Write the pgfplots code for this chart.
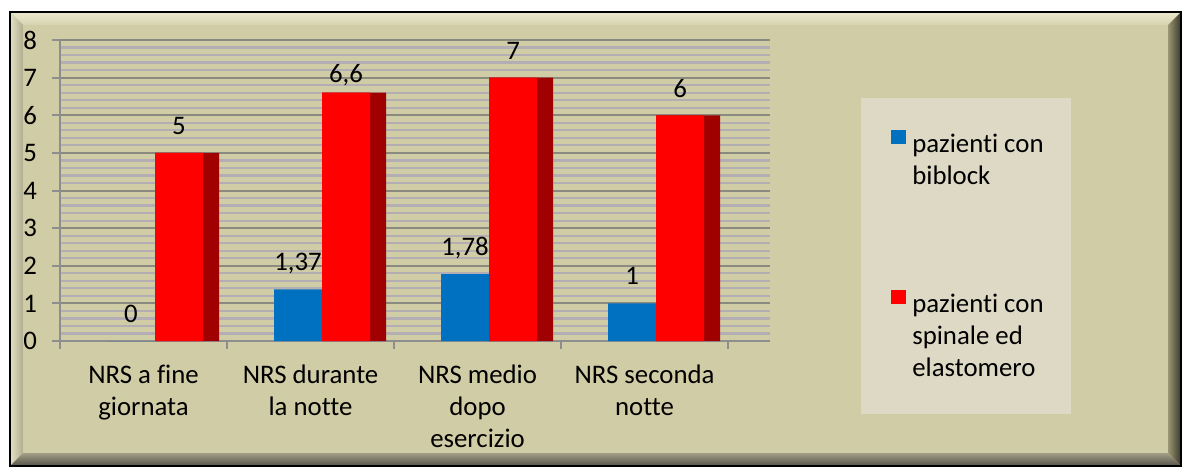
\documentclass[border=0pt]{standalone}
\usepackage{fontspec}
\setmainfont{Carlito}[Ligatures=NoCommon]
\usepackage{pgfplots}
\pgfplotsset{compat=1.18}
\definecolor{panel}{HTML}{D0CCA5}
\definecolor{legbg}{HTML}{DDD9C4}
\definecolor{cblue}{HTML}{0070C0}
\definecolor{cred}{HTML}{FF0000}
\definecolor{cdark}{HTML}{A00000}
\definecolor{gmaj}{HTML}{8A8A80}
\definecolor{gmin}{HTML}{B3AEB3}
\definecolor{axisgray}{HTML}{8E8E8E}
\definecolor{bevtopA}{HTML}{ECE8CE}
\definecolor{bevtopB}{HTML}{D6D2B0}
\definecolor{bevleftA}{HTML}{E4E0C4}
\definecolor{bevleftB}{HTML}{B0AC90}
\definecolor{bevrightA}{HTML}{9A9674}
\definecolor{bevrightB}{HTML}{3A3828}
\definecolor{bevbotA}{HTML}{A29E86}
\definecolor{bevbotB}{HTML}{55534A}
\newcommand{\lblfont}{\fontsize{13.4}{16}\selectfont}
\begin{document}
\begin{tikzpicture}
\begin{scope}[x=0.5pt,y=-0.5pt,shift={(-30pt,170.5pt)}]
  \fill[panel] (10,12) rectangle (1181,466);
  \shade[top color=bevtopA, bottom color=bevtopB] (10,12) -- (1181,12) -- (1168,25) -- (23,25) -- cycle;
  \shade[left color=bevleftA, right color=bevleftB] (10,12) -- (23,25) -- (23,453) -- (10,466) -- cycle;
  \shade[left color=bevrightA, right color=bevrightB] (1181,12) -- (1181,466) -- (1168,453) -- (1168,25) -- cycle;
  \shade[top color=bevbotA, bottom color=bevbotB] (10,466) -- (1181,466) -- (1168,453) -- (23,453) -- cycle;
  \draw[black, line width=1pt] (10,12) rectangle (1181,466);
  \fill[legbg] (861,98) rectangle (1071,414);
\end{scope}
\begin{axis}[
  scale only axis, width=355pt, height=150.5pt,
  xmin=-0.5, xmax=3.751, ymin=0, ymax=8,
  axis x line*=bottom, axis y line*=left,
  axis line style={axisgray, line width=1pt},
  font=\lblfont,
  /pgf/number format/use comma,
  /pgf/number format/assume math mode=true,
  ytick={0,1,...,8},
  minor y tick num=4,
  ymajorgrids, yminorgrids,
  major grid style={gmaj, line width=1pt},
  minor grid style={gmin, line width=1.1pt},
  tick style={axisgray, line width=1pt},
  tick align=outside, major tick length=4pt, minor tick length=0pt,
  xtick={-0.5,0.5,1.5,2.5,3.5},
  xticklabels={,,,,},
  extra x ticks={0,1,2,3},
  extra x tick labels={{NRS a fine\\giornata},{NRS durante\\la notte},{NRS medio\\dopo\\esercizio},{NRS seconda\\notte}},
  extra x tick style={major tick length=0pt},
  xticklabel style={align=center, font=\lblfont, yshift=-8.5pt},
  yticklabel style={font=\lblfont, xshift=-4pt},
  legend style={at={(1.128,0.807)}, anchor=north west, fill=none, draw=none,
    inner xsep=15pt, inner ysep=15.5pt, row sep=67.3pt, column sep=3pt,
    font=\lblfont, nodes={inner sep=0pt}},
  legend cell align=left,
]
\addplot[ybar, bar width=0.2874, bar shift=0pt, fill=cblue, draw=none,
  nodes near coords,
  every node near coord/.append style={font=\lblfont, text=black, anchor=base, yshift=9.5pt},
  legend image code/.code={\fill[cblue] (0pt,-0.5pt) rectangle (7.5pt,6.5pt);}]
  table[row sep=\\] {x y\\ -0.075 0\\ 0.925 1.37\\ 1.925 1.78\\ 2.925 1\\};
\addlegendentry{\begin{tabular}[t]{@{}l@{}}pazienti con\\biblock\end{tabular}}
\addplot[ybar, bar width=0.3832, bar shift=0pt, fill=cdark, draw=none, forget plot]
  table[row sep=\\] {x y\\ 0.2605 5\\ 1.2605 6.6\\ 2.2605 7\\ 3.2605 6\\};
\addplot[ybar, bar width=0.2874, bar shift=0pt, fill=cred, draw=none,
  visualization depends on={\thisrow{dy} \as \dy},
  nodes near coords,
  every node near coord/.append style={font=\lblfont, text=black, anchor=base, yshift=\dy pt},
  legend image code/.code={\fill[cred] (0pt,-0.5pt) rectangle (7.5pt,6.5pt);}]
  table[row sep=\\] {x y dy\\ 0.2126 5 9\\ 1.2126 6.6 5\\ 2.2126 7 9\\ 3.2126 6 9\\};
\addlegendentry{\begin{tabular}[t]{@{}l@{}}pazienti con\\spinale ed\\elastomero\end{tabular}}
\end{axis}
\begin{scope}[x=0.5pt,y=-0.5pt,shift={(-30pt,170.5pt)}]
  \pgfresetboundingbox
  \path[use as bounding box] (0,0) rectangle (1183,466);
\end{scope}
\end{tikzpicture}
\end{document}
